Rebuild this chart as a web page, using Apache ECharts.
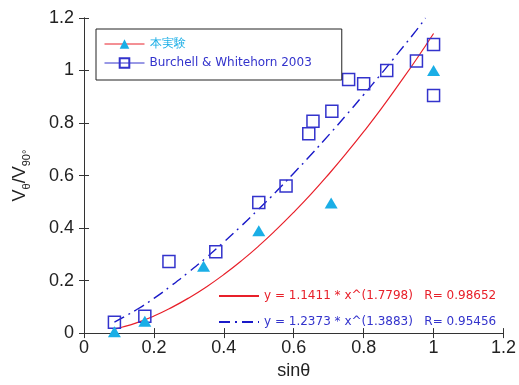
<!DOCTYPE html>
<html>
<head>
<meta charset="utf-8">
<script src="https://cdn.jsdelivr.net/npm/echarts@6/dist/echarts.min.js"></script>
<style>
  html, body { margin: 0; padding: 0; background: #fff; }
  #chart { width: 519px; height: 385px; }
</style>
</head>
<body>
<div id="chart"></div>
<script>
// 本実験 (triangles)
const expX = [0.087, 0.174, 0.342, 0.5, 0.707, 1.0]
const expY = [0.005, 0.045, 0.255, 0.39, 0.495, 1.0]
// Burchell & Whitehorn 2003 (squares)
const bwX = [0.087, 0.174, 0.243, 0.377, 0.5, 0.578, 0.643, 0.655, 0.709, 0.757, 0.8, 0.866, 0.951, 1.0, 1.0]
const bwY = [0.041, 0.064, 0.273, 0.31, 0.497, 0.56, 0.759, 0.807, 0.845, 0.966, 0.95, 1.0, 1.036, 1.099, 0.905]
// fit curves
const fitX = [0.087, 0.1, 0.15, 0.2, 0.25, 0.3, 0.35, 0.4, 0.45, 0.5, 0.55, 0.6, 0.65, 0.7, 0.75, 0.8, 0.85, 0.9, 0.95, 1.0]
const fitRedY = [0.015, 0.019, 0.039, 0.065, 0.097, 0.134, 0.176, 0.223, 0.275, 0.332, 0.394, 0.46, 0.53, 0.605, 0.684, 0.767, 0.854, 0.946, 1.041, 1.141]
const fitBlueX = [0.087, 0.1, 0.15, 0.2, 0.25, 0.3, 0.35, 0.4, 0.45, 0.5, 0.55, 0.6, 0.65, 0.7, 0.75, 0.8, 0.85, 0.9, 0.95, 0.977]
const fitBlueY = [0.042, 0.051, 0.089, 0.132, 0.181, 0.233, 0.288, 0.347, 0.408, 0.473, 0.539, 0.609, 0.68, 0.754, 0.83, 0.908, 0.987, 1.069, 1.152, 1.2]
const ticks = { min: 0, max: 1.2, interval: 0.2 }

const nameExp = '本実験'
const nameBW = 'Burchell & Whitehorn 2003'
const nameRed = 'y = 1.1411 * x^(1.7798)   R= 0.98652'
const nameBlue = 'y = 1.2373 * x^(1.3883)   R= 0.95456'

const cyan = '#1aaee6'
const blue = '#3333cc'
const red = '#e8202a'
const darkBlue = '#1a1ac8'

const zip = (xs, ys) => xs.map((x, i) => [x, ys[i]])

const labelFont = { fontFamily: 'Liberation Sans, Arial, sans-serif', fontSize: 18, color: '#222' }
const frameAxis = {
  ...ticks,
  axisLine: { show: true, lineStyle: { color: '#333', width: 1 } },
  axisTick: { show: true, inside: true, length: 5, lineStyle: { color: '#333' } },
  splitLine: { show: false }
}

const myChart = echarts.init(document.getElementById('chart'))
myChart.setOption({
  animation: false,
  grid: { left: 84, right: 14, top: 18, bottom: 46 },
  legend: [
    {
      orient: 'vertical',
      left: 96,
      top: 29,
      padding: [9, 30, 11, 8],
      itemGap: 7,
      itemWidth: 40,
      itemHeight: 12,
      borderColor: '#222',
      borderWidth: 1,
      backgroundColor: '#fff',
      textStyle: { fontFamily: 'DejaVu Sans, sans-serif', fontSize: 12 },
      data: [
        { name: nameExp, lineStyle: { color: red, opacity: 1, width: 1 }, textStyle: { color: cyan } },
        { name: nameBW, lineStyle: { color: blue, opacity: 1, width: 1 }, textStyle: { color: blue } }
      ]
    },
    {
      orient: 'vertical',
      left: 218,
      top: 290,
      padding: 0,
      itemGap: 14,
      itemWidth: 40,
      itemHeight: 12,
      textStyle: { fontFamily: 'DejaVu Sans, sans-serif', fontSize: 12 },
      data: [
        { name: nameRed, itemStyle: { opacity: 0 }, textStyle: { color: red } },
        { name: nameBlue, itemStyle: { opacity: 0 }, textStyle: { color: blue } }
      ]
    }
  ],
  xAxis: [
    {
      type: 'value',
      ...frameAxis,
      name: 'sinθ',
      nameLocation: 'middle',
      nameGap: 26,
      nameTextStyle: labelFont,
      axisLabel: { ...labelFont, margin: 6 }
    },
    { type: 'value', position: 'top', ...frameAxis, axisLabel: { show: false } }
  ],
  yAxis: [
    {
      type: 'value',
      ...frameAxis,
      name: '{v|V}{s|θ}{v|/V}{s|90°}',
      nameLocation: 'middle',
      nameGap: 52,
      nameTextStyle: {
        rich: {
          v: { ...labelFont, lineHeight: 24 },
          s: { fontFamily: 'Liberation Sans, Arial, sans-serif', fontSize: 11, color: '#222', lineHeight: 11, verticalAlign: 'bottom' }
        }
      },
      axisLabel: { ...labelFont, margin: 10 }
    },
    { type: 'value', position: 'right', ...frameAxis, axisLabel: { show: false } }
  ],
  series: [
    {
      name: nameRed,
      type: 'line',
      data: zip(fitX, fitRedY),
      symbol: 'none',
      smooth: true,
      lineStyle: { color: red, width: 1.2 },
      itemStyle: { color: red }
    },
    {
      name: nameBlue,
      type: 'line',
      data: zip(fitBlueX, fitBlueY),
      symbol: 'none',
      smooth: true,
      lineStyle: { color: darkBlue, width: 1.4, type: [11, 5, 2, 5] },
      itemStyle: { color: darkBlue }
    },
    {
      name: nameBW,
      type: 'line',
      data: zip(bwX, bwY),
      symbol: 'rect',
      symbolSize: 12,
      showAllSymbol: true,
      lineStyle: { opacity: 0 },
      itemStyle: { color: 'rgba(255,255,255,0)', borderColor: blue, borderWidth: 1.5 },
      z: 3
    },
    {
      name: nameExp,
      type: 'line',
      data: zip(expX, expY),
      symbol: 'triangle',
      symbolSize: [13, 11],
      showAllSymbol: true,
      lineStyle: { opacity: 0 },
      itemStyle: { color: cyan },
      z: 4
    }
  ]
})
</script>
</body>
</html>
